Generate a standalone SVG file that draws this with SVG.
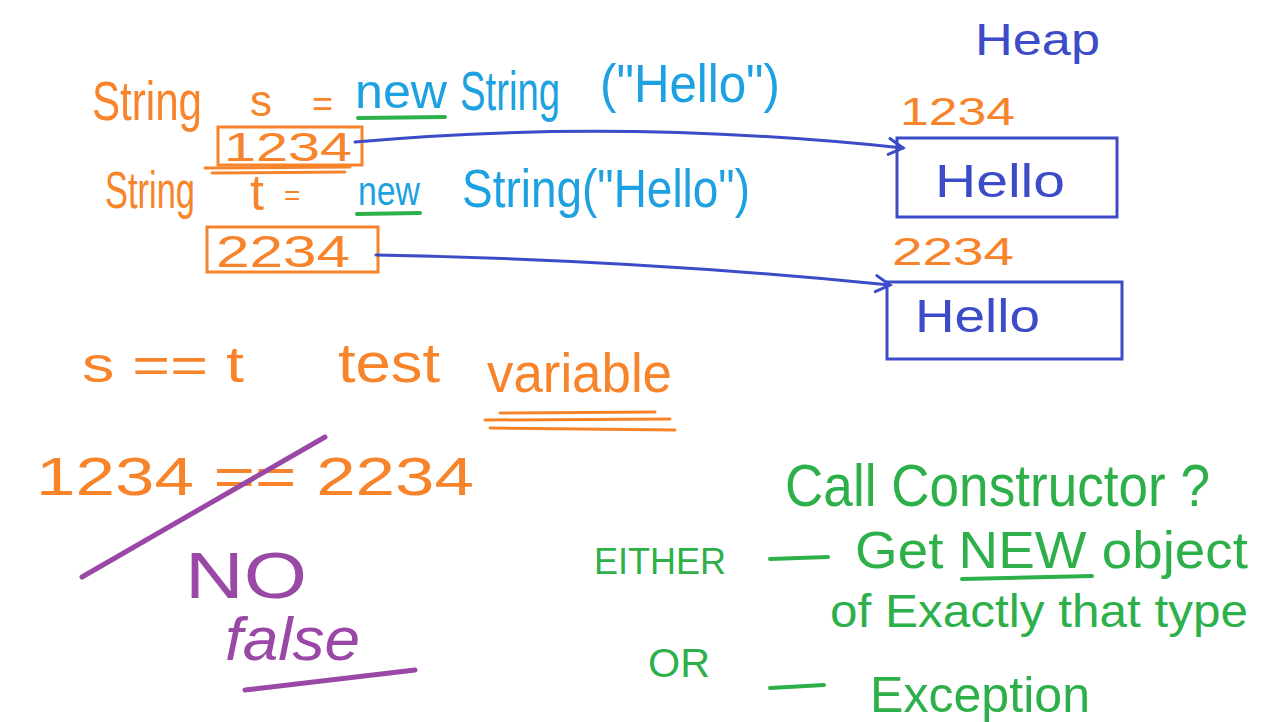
<svg xmlns="http://www.w3.org/2000/svg" width="1283" height="722" viewBox="0 0 1283 722">
<style>
text{font-family:"Liberation Sans","DejaVu Sans",sans-serif;}
.o{fill:#F7842A}.c{fill:#1DA1E0}.g{fill:#2DB04A}.b{fill:#3C4BC8}.p{fill:#9A48A6}
.so{stroke:#F7842A;fill:none;stroke-width:3;stroke-linecap:round}
.sb{stroke:#3C4BC8;fill:none;stroke-width:3;stroke-linecap:round}
.sg{stroke:#2DB04A;fill:none;stroke-width:4;stroke-linecap:round}
.sp{stroke:#9A48A6;fill:none;stroke-width:5;stroke-linecap:round}
</style>
<defs>
<marker id="ah" markerWidth="20" markerHeight="20" refX="16" refY="10" orient="auto" markerUnits="userSpaceOnUse">
<polyline points="2,2 16,10 2,18" fill="none" stroke="#3C4BC8" stroke-width="3" stroke-linecap="round"/>
</marker>
</defs>
<rect width="1283" height="722" fill="#fff"/>

<g id="code-line-1">
<text class="o" x="92" y="120" font-size="56" textLength="110" lengthAdjust="spacingAndGlyphs">String</text>
<text class="o" x="250" y="116" font-size="44">s</text>
<text class="o" x="312" y="116" font-size="36">=</text>
<text class="c" x="355" y="108" font-size="48" textLength="92" lengthAdjust="spacingAndGlyphs">new</text>
<line class="sg" x1="358" y1="118" x2="445" y2="117" stroke-width="5"/>
<text class="c" x="460" y="110" font-size="56" textLength="100" lengthAdjust="spacingAndGlyphs">String</text>
<text class="c" x="600" y="102" font-size="54" textLength="180" lengthAdjust="spacingAndGlyphs">("Hello")</text>
</g>

<g id="ref-s">
<rect class="so" x="218" y="127" width="144" height="38"/>
<text class="o" x="224" y="161" font-size="40" textLength="128" lengthAdjust="spacingAndGlyphs">1234</text>
<line class="so" x1="205" y1="168" x2="350" y2="167"/>
<line class="so" x1="212" y1="173" x2="345" y2="172"/>
</g>

<g id="code-line-2">
<text class="o" x="105" y="208" font-size="52" textLength="90" lengthAdjust="spacingAndGlyphs">String</text>
<text class="o" x="250" y="210" font-size="50">t</text>
<text class="o" x="284" y="205" font-size="28">=</text>
<text class="c" x="358" y="205" font-size="40" textLength="62" lengthAdjust="spacingAndGlyphs">new</text>
<line class="sg" x1="357" y1="214" x2="420" y2="213" stroke-width="5"/>
<text class="c" x="462" y="207" font-size="54" textLength="288" lengthAdjust="spacingAndGlyphs">String("Hello")</text>
</g>

<g id="ref-t">
<rect class="so" x="207" y="227" width="171" height="45"/>
<text class="o" x="216" y="267" font-size="44" textLength="134" lengthAdjust="spacingAndGlyphs">2234</text>
</g>

<g id="heap-label">
<text class="b" x="975" y="55" font-size="44" textLength="125" lengthAdjust="spacingAndGlyphs">Heap</text>
</g>

<g id="heap-obj-1234">
<text class="o" x="900" y="125" font-size="38" textLength="115" lengthAdjust="spacingAndGlyphs">1234</text>
<rect class="sb" x="897" y="138" width="220" height="79"/>
<text class="b" x="935" y="197" font-size="46" textLength="130" lengthAdjust="spacingAndGlyphs">Hello</text>
</g>

<g id="heap-obj-2234">
<text class="o" x="892" y="265" font-size="38" textLength="122" lengthAdjust="spacingAndGlyphs">2234</text>
<rect class="sb" x="887" y="282" width="235" height="77"/>
<text class="b" x="915" y="332" font-size="46" textLength="125" lengthAdjust="spacingAndGlyphs">Hello</text>
</g>

<g id="connectors">
<path class="sb" d="M355 142 Q620 118 903 148" marker-end="url(#ah)"/>
<path class="sb" d="M376 255 Q640 260 890 285" marker-end="url(#ah)"/>
</g>

<g id="comparison">
<text class="o" x="82" y="382" font-size="50" textLength="162" lengthAdjust="spacingAndGlyphs">s == t</text>
<text class="o" x="338" y="382" font-size="56" textLength="102" lengthAdjust="spacingAndGlyphs">test</text>
<text class="o" x="487" y="392" font-size="56" textLength="185" lengthAdjust="spacingAndGlyphs">variable</text>
<line class="so" x1="500" y1="413" x2="655" y2="412"/>
<line class="so" x1="485" y1="420" x2="670" y2="419"/>
<line class="so" x1="490" y1="428" x2="675" y2="430"/>
<text class="o" x="36" y="495" font-size="54" textLength="438" lengthAdjust="spacingAndGlyphs">1234 == 2234</text>
</g>

<g id="answer">
<line class="sp" x1="82" y1="577" x2="325" y2="437"/>
<text class="p" x="185" y="598" font-size="64" textLength="122" lengthAdjust="spacingAndGlyphs">NO</text>
<text class="p" x="225" y="660" font-size="62" font-style="italic" textLength="135" lengthAdjust="spacingAndGlyphs">false</text>
<line class="sp" x1="245" y1="690" x2="415" y2="670" stroke-width="4"/>
</g>

<g id="constructor-notes">
<text class="g" x="785" y="506" font-size="60" textLength="425" lengthAdjust="spacingAndGlyphs">Call Constructor ?</text>
<text class="g" x="594" y="574" font-size="36" textLength="132" lengthAdjust="spacingAndGlyphs">EITHER</text>
<line class="sg" x1="770" y1="559" x2="828" y2="557"/>
<text class="g" x="855" y="568" font-size="52" textLength="393" lengthAdjust="spacingAndGlyphs">Get NEW object</text>
<line class="sg" x1="962" y1="579" x2="1092" y2="576"/>
<text class="g" x="830" y="627" font-size="46" textLength="418" lengthAdjust="spacingAndGlyphs">of Exactly that type</text>
<text class="g" x="648" y="677" font-size="40" textLength="62" lengthAdjust="spacingAndGlyphs">OR</text>
<line class="sg" x1="770" y1="688" x2="824" y2="685"/>
<text class="g" x="870" y="712" font-size="50" textLength="220" lengthAdjust="spacingAndGlyphs">Exception</text>
</g>
</svg>
